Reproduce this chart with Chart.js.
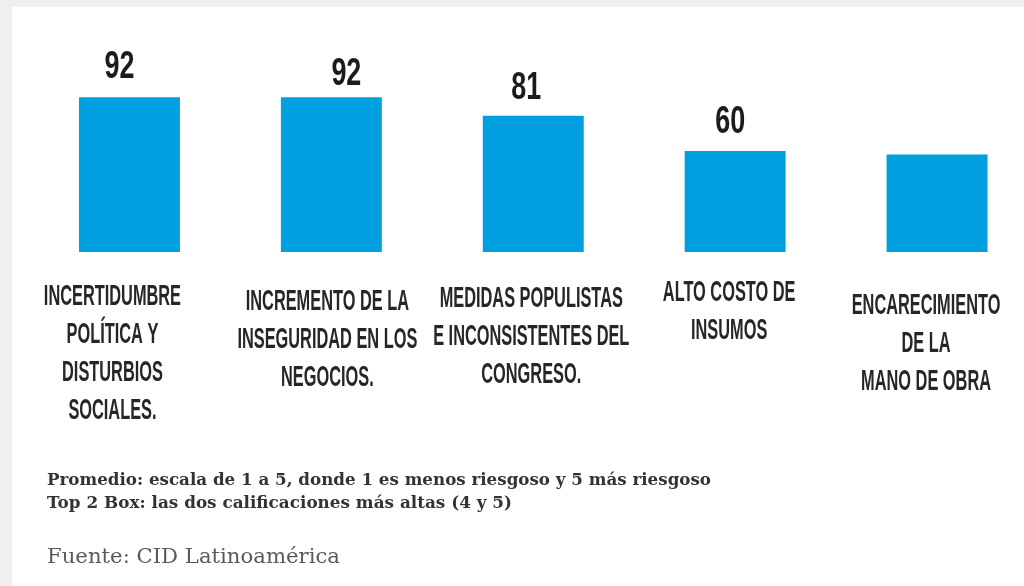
<!DOCTYPE html>
<html>
<head>
<meta charset="utf-8">
<script src="https://cdn.jsdelivr.net/npm/chart.js@4/dist/chart.umd.min.js"></script>
<style>
  html, body { margin: 0; padding: 0; width: 1024px; height: 586px; overflow: hidden; background: #efefef; }
  #panel { position: absolute; left: 12px; top: 7px; right: 0; bottom: 0; background: #ffffff; }
  #wrap { position: absolute; left: 0; top: 0; width: 1044px; height: 586px; }
  .note { position: absolute; left: 47px; white-space: nowrap; font-family: "DejaVu Serif", serif; color: #333333; transform-origin: 0 50%; line-height: 1; }
  #n1 { top: 471px; font-size: 17px; font-weight: bold; }
  #n2 { top: 494px; font-size: 17px; font-weight: bold; }
  #src { top: 546px; font-size: 21px; color: #5a5a5a; }
</style>
</head>
<body>
<div id="panel"></div>
<div id="wrap"><canvas id="c"></canvas></div>
<div class="note" id="n1">Promedio: escala de 1 a 5, donde 1 es menos riesgoso y 5 más riesgoso</div>
<div class="note" id="n2">Top 2 Box: las dos calificaciones más altas (4 y 5)</div>
<div class="note" id="src">Fuente: CID Latinoamérica</div>
<script>
// ---- data ----
const categories = [
  ["INCERTIDUMBRE", "POLÍTICA Y", "DISTURBIOS", "SOCIALES."],
  ["INCREMENTO DE LA", "INSEGURIDAD EN LOS", "NEGOCIOS."],
  ["MEDIDAS POPULISTAS", "E INCONSISTENTES DEL", "CONGRESO."],
  ["ALTO COSTO DE", "INSUMOS"],
  ["ENCARECIMIENTO", "DE LA", "MANO DE OBRA"]
];
const values = [92, 92, 81, 60, 58];
const valueLabelShown = [true, true, true, true, false];

// ---- styling (label nudges, not data) ----
const valueLabelStyle = {
  font: 'bold 39px "Liberation Sans", Arial, sans-serif',
  color: '#1c1c1c',
  scaleX: 0.69,
  dx: [-10, 15, -7, -5, 0],
  gap: [19, 12, 17, 18, 15]
};
const catLabelStyle = {
  font: 'bold 30px "Liberation Sans", Arial, sans-serif',
  color: '#262626',
  scaleX: 0.545,
  lineHeight: 38,
  firstBaseline: 53,
  dx: [-17, -4, -2, -6, -11],
  dy: [0, 5, 2, -4, 9]
};

function drawSqueezed(ctx, text, x, y, sx) {
  ctx.save();
  ctx.translate(x, y);
  ctx.scale(sx, 1);
  ctx.fillText(text, 0, 0);
  ctx.restore();
}

const labelPlugin = {
  id: 'customLabels',
  afterDatasetsDraw(chart) {
    const ctx = chart.ctx;
    const xs = chart.scales.x, ys = chart.scales.y;
    const base = ys.getPixelForValue(0);
    ctx.save();
    ctx.textAlign = 'center';
    ctx.textBaseline = 'alphabetic';
    values.forEach((v, i) => {
      const cx = xs.getPixelForValue(i);
      if (valueLabelShown[i]) {
        ctx.font = valueLabelStyle.font;
        ctx.fillStyle = valueLabelStyle.color;
        drawSqueezed(ctx, String(v), cx + valueLabelStyle.dx[i],
          ys.getPixelForValue(v) - valueLabelStyle.gap[i], valueLabelStyle.scaleX);
      }
      ctx.font = catLabelStyle.font;
      ctx.fillStyle = catLabelStyle.color;
      categories[i].forEach((line, k) => {
        drawSqueezed(ctx, line, cx + catLabelStyle.dx[i],
          base + catLabelStyle.firstBaseline + catLabelStyle.dy[i] + k * catLabelStyle.lineHeight,
          catLabelStyle.scaleX);
      });
    });
    ctx.restore();
  }
};

new Chart(document.getElementById('c'), {
  type: 'bar',
  data: {
    labels: categories.map(c => c.join(' ')),
    datasets: [{
      data: values,
      backgroundColor: '#009fe0',
      borderWidth: 0,
      barPercentage: 1,
      categoryPercentage: 0.5
    }]
  },
  options: {
    responsive: true,
    maintainAspectRatio: false,
    animation: false,
    layout: { padding: { left: 28.5, right: 6, top: 83.7, bottom: 334 } },
    plugins: { legend: { display: false }, tooltip: { enabled: false } },
    scales: {
      x: { display: false, offset: true, grid: { display: false } },
      y: { display: false, min: 0, max: 100, grid: { display: false } }
    }
  },
  plugins: [labelPlugin]
});

// fit footnote widths to the reference
[['n1', 664], ['n2', 465], ['src', 293]].forEach(([id, w]) => {
  const el = document.getElementById(id);
  const r = el.getBoundingClientRect();
  if (r.width > 0) el.style.transform = 'scaleX(' + (w / r.width) + ')';
});
</script>
</body>
</html>
